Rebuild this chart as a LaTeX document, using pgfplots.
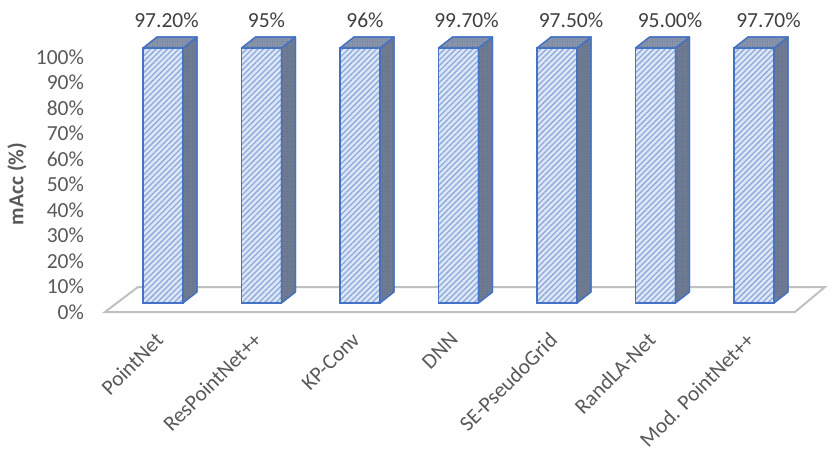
\documentclass[border=0pt]{standalone}
\usepackage{pgfplots}
\pgfplotsset{compat=1.18}
\usepackage{fontspec}
\setmainfont{Carlito}
\usetikzlibrary{patterns.meta}
\definecolor{barblue}{HTML}{4472C4}
\definecolor{barfill}{HTML}{DDE6F6}
\definecolor{hatch}{HTML}{8EAADC}
\definecolor{sidec}{HTML}{6E7B93}
\definecolor{topc}{HTML}{8794AC}
\definecolor{dotc}{HTML}{58647C}
\definecolor{floorc}{HTML}{C0C0C0}
\definecolor{ticklab}{HTML}{595959}
\definecolor{datalab}{HTML}{404040}
\begin{document}
\begin{tikzpicture}
\path[use as bounding box] (-163bp,-151bp) rectangle (669bp,303bp);
\begin{axis}[
  at={(0,0)}, anchor=origin,
  x=98.5bp, y=2.55bp,
  xmin=-0.75, xmax=6.8, ymin=-3.53, ymax=106,
  clip=false,
  axis line style={draw=none},
  tick style={draw=none},
  major tick length=0pt,
  font=\fontsize{21.5bp}{25bp}\selectfont,
  ytick={-3.53,6.47,...,96.47},
  yticklabels={0\%,10\%,20\%,30\%,40\%,50\%,60\%,70\%,80\%,90\%,100\%},
  yticklabel style={anchor=east, inner sep=0pt, xshift=-5bp, text=ticklab},
  xtick={0,...,6},
  xticklabels={PointNet,ResPointNet++,KP-Conv,DNN,SE-PseudoGrid,RandLA-Net,Mod. PointNet++},
  xticklabel style={xshift=-9bp, yshift=-19bp, rotate=45, anchor=north east, inner sep=0pt, text=ticklab},
  ylabel={\bfseries mAcc (\%)},
  every axis y label/.style={at={(axis cs:-1.482,46.7)}, rotate=90, anchor=center, text=ticklab},
]
% floor
\addplot[draw=floorc, line width=2bp, fill=none, mark=none, forget plot] coordinates {(-0.589,-3.53) (6.416,-3.53) (6.72,6.27) (-0.254,6.27)} --cycle;
% front faces (bar value 100 %), labels as printed in the chart
\addplot[ybar, bar width=40bp, draw=barblue, line width=1.4bp, preaction={fill=barfill},
  pattern={Lines[angle=45,distance=4bp,line width=1.3bp]}, pattern color=hatch,
  nodes near coords, point meta=explicit symbolic,
  visualization depends on={\thisrow{dx}\as\labdx},
  every node near coord/.append style={anchor=center, yshift=28bp, xshift=\labdx bp, text=datalab, font=\fontsize{21.5bp}{25bp}\selectfont}]
  table[x=x, y=y, meta=lab] {
x y lab dx
0 100 97.20\% 3.5
1 100 95\% 5
2 100 96\% 5
3 100 99.70\% 8
4 100 97.50\% 14
5 100 95.00\% 14.5
6 100 97.70\% 14.5
};
% side faces
\pgfplotsset{sideface/.style={draw=barblue, line width=1.2bp, line join=round, mark=none, preaction={fill=sidec}, pattern={Dots[distance=2.5bp,radius=0.45bp]}, pattern color=dotc, forget plot},
 topface/.style={draw=barblue, line width=1.2bp, line join=round, mark=none, preaction={fill=topc}, pattern={Dots[distance=2.5bp,radius=0.45bp]}, pattern color=dotc, forget plot}}
\addplot[sideface] coordinates {(0.203,0) (0.345,4.31) (0.345,104.31) (0.203,100)} --cycle;
\addplot[sideface] coordinates {(1.203,0) (1.345,4.31) (1.345,104.31) (1.203,100)} --cycle;
\addplot[sideface] coordinates {(2.203,0) (2.345,4.31) (2.345,104.31) (2.203,100)} --cycle;
\addplot[sideface] coordinates {(3.203,0) (3.345,4.31) (3.345,104.31) (3.203,100)} --cycle;
\addplot[sideface] coordinates {(4.203,0) (4.345,4.31) (4.345,104.31) (4.203,100)} --cycle;
\addplot[sideface] coordinates {(5.203,0) (5.345,4.31) (5.345,104.31) (5.203,100)} --cycle;
\addplot[sideface] coordinates {(6.203,0) (6.345,4.31) (6.345,104.31) (6.203,100)} --cycle;
% top faces
\addplot[topface] coordinates {(-0.203,100) (0.203,100) (0.345,104.31) (-0.061,104.31)} --cycle;
\addplot[topface] coordinates {(0.797,100) (1.203,100) (1.345,104.31) (0.939,104.31)} --cycle;
\addplot[topface] coordinates {(1.797,100) (2.203,100) (2.345,104.31) (1.939,104.31)} --cycle;
\addplot[topface] coordinates {(2.797,100) (3.203,100) (3.345,104.31) (2.939,104.31)} --cycle;
\addplot[topface] coordinates {(3.797,100) (4.203,100) (4.345,104.31) (3.939,104.31)} --cycle;
\addplot[topface] coordinates {(4.797,100) (5.203,100) (5.345,104.31) (4.939,104.31)} --cycle;
\addplot[topface] coordinates {(5.797,100) (6.203,100) (6.345,104.31) (5.939,104.31)} --cycle;
\end{axis}
\end{tikzpicture}
\end{document}
